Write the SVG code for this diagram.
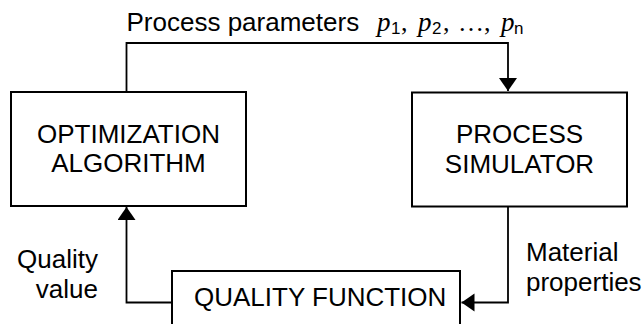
<svg xmlns="http://www.w3.org/2000/svg" width="643" height="324" viewBox="0 0 643 324">
<defs>
<style>
.box{fill:#fff;stroke:#000;stroke-width:2}
.conn{fill:none;stroke:#000;stroke-width:1.8}
.t{font-family:"Liberation Sans",Arial,sans-serif;font-size:26px;fill:#000}
.m{text-anchor:middle}
.it{font-family:"Liberation Serif","Times New Roman",serif;font-style:italic;font-size:27px}
.sr{font-family:"Liberation Serif","Times New Roman",serif;font-size:26px}
.sub{font-family:"Liberation Sans",Arial,sans-serif;font-size:17px}
</style>
<marker id="ah" markerUnits="userSpaceOnUse" markerWidth="14" markerHeight="20" refX="13" refY="9" orient="auto">
<path d="M0,0 L13,9 L0,18 Z" fill="#000"/>
</marker>
</defs>
<g id="connectors">
<path class="conn" d="M126.5,92 V43 H508 V91" marker-end="url(#ah)"/>
<path class="conn" d="M172,302.5 H126.5 V207" marker-end="url(#ah)"/>
<path class="conn" d="M508,206.5 V302.5 H461.5" marker-end="url(#ah)"/>
</g>
<g id="label-params">
<text class="t" x="126.5" y="31" font-size="25">Process parameters</text>
<text y="31"><tspan class="it" x="377">p</tspan><tspan class="sub" x="391" y="34">1</tspan><tspan class="sr" x="401" y="31">,</tspan><tspan class="it" x="418">p</tspan><tspan class="sub" x="432" y="34">2</tspan><tspan class="sr" x="443" y="31">,</tspan><tspan class="sr" x="458">…,</tspan><tspan class="it" x="501">p</tspan><tspan class="sub" x="514" y="34">n</tspan></text>
</g>
<g id="node-optimization">
<rect class="box" x="11" y="92" width="235" height="114"/>
<text class="t m" x="128.5" y="143">OPTIMIZATION</text>
<text class="t m" x="128.5" y="172">ALGORITHM</text>
</g>
<g id="node-simulator">
<rect class="box" x="412" y="92.5" width="215" height="114"/>
<text class="t m" x="519.5" y="143">PROCESS</text>
<text class="t m" x="519.5" y="173">SIMULATOR</text>
</g>
<g id="node-quality">
<path class="box" d="M172,330 V271 H460 V330"/>
<text class="t" x="194" y="306">QUALITY FUNCTION</text>
</g>
<g id="label-quality-value">
<text class="t" x="98" y="268" text-anchor="end">Quality</text>
<text class="t" x="98" y="298" text-anchor="end">value</text>
</g>
<g id="label-material">
<text class="t" x="526" y="261">Material</text>
<text class="t" x="526" y="291">properties</text>
</g>
</svg>
